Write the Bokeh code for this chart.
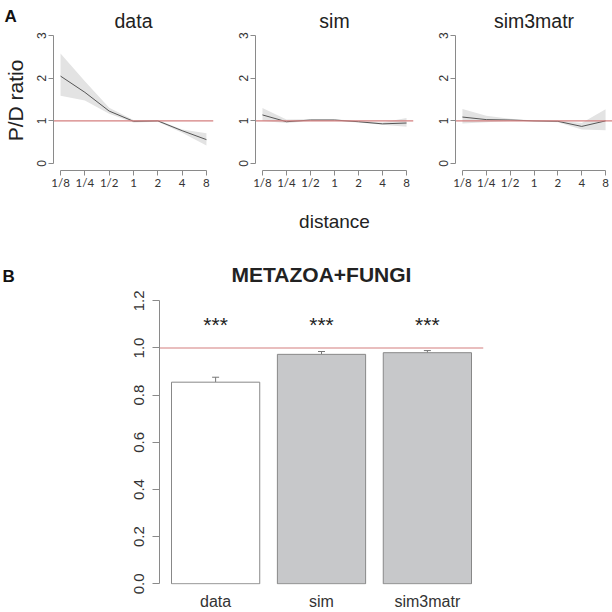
from bokeh.plotting import figure
from bokeh.models import (Span, Whisker, TeeHead, ColumnDataSource, FixedTicker,
                          FactorRange, Range1d)
from bokeh.layouts import column, row
from bokeh.embed import file_html
from bokeh.resources import INLINE
from bokeh.core.properties import value

# ---------------- data ----------------
distance_labels = ["1/8", "1/4", "1/2", "1", "2", "4", "8"]
log2_distance = [-3, -2, -1, 0, 1, 2, 3]

panel_names = ["data", "sim", "sim3matr"]

data_mean = [2.05, 1.67, 1.23, 0.99, 1.00, 0.77, 0.56]
data_lo = [1.59, 1.48, 1.17, 0.96, 0.98, 0.72, 0.42]
data_hi = [2.58, 1.93, 1.31, 1.02, 1.02, 0.80, 0.71]

sim_mean = [1.14, 0.98, 1.02, 1.02, 0.98, 0.93, 0.95]
sim_lo = [1.00, 0.95, 1.00, 1.00, 0.96, 0.91, 0.86]
sim_hi = [1.30, 1.03, 1.04, 1.04, 1.00, 0.96, 1.07]

sim3_mean = [1.09, 1.03, 1.02, 1.00, 0.99, 0.87, 1.00]
sim3_lo = [0.94, 0.97, 1.00, 0.99, 0.97, 0.80, 0.78]
sim3_hi = [1.28, 1.12, 1.05, 1.01, 1.01, 0.95, 1.27]

y_ticks_a = [0, 1, 2, 3]

bar_labels = ["data", "sim", "sim3matr"]
bar_values = [0.855, 0.973, 0.980]
bar_se = [0.021, 0.012, 0.009]
bar_fill = ["#ffffff", "#c7c8ca", "#c7c8ca"]
bar_stars = ["***", "***", "***"]
y_ticks_b = [0.0, 0.2, 0.4, 0.6, 0.8, 1.0, 1.2]
reference_ratio = 1.0

# ---------------- styling ----------------
FONT = "Liberation Sans"
AXIS_COL = "#8a8a8a"
TEXT_COL = "#333333"
RED = "#d47f7f"
TOP_H = 246
BOT_H = 366
SIDE_A = 26
SIDE_B = 24


def style_axes(p):
    p.xgrid.grid_line_color = None
    p.ygrid.grid_line_color = None
    p.outline_line_color = None
    for ax in (p.xaxis, p.yaxis):
        ax.axis_line_color = AXIS_COL
        ax.major_tick_line_color = AXIS_COL
        ax.minor_tick_line_color = None
        ax.major_tick_in = 0
        ax.major_label_text_color = TEXT_COL
        ax.axis_label_text_color = "#222222"
        ax.axis_label_text_font = FONT
        ax.axis_label_text_font_style = "normal"


def set_standoff(title, v):
    try:
        title.standoff = v
    except Exception:
        title.standoff = 0


def letter_title(s, letter, standoff, offset):
    s.title.text = letter
    s.title.text_font = FONT
    s.title.text_font_size = "17px"
    s.title.text_font_style = "bold"
    s.title.text_color = "#111111"
    s.title.align = "left"
    s.title.offset = offset
    set_standoff(s.title, standoff)


def panel(name, mean, lo, hi, width, left, right):
    p = figure(width=width, height=TOP_H,
               x_range=Range1d(-3.29, 3.29), y_range=Range1d(-0.164, 3.12),
               output_backend="svg", toolbar_location=None,
               min_border_left=left, min_border_right=right,
               min_border_top=30, min_border_bottom=76, title=name)
    p.title.text_font = FONT
    p.title.text_font_size = "19.5px"
    p.title.text_font_style = "normal"
    p.title.text_color = "#222222"
    p.title.align = "center"
    set_standoff(p.title, -3)
    p.title.offset = -6
    src = ColumnDataSource(dict(x=log2_distance, m=mean, lo=lo, hi=hi))
    p.varea(x="x", y1="lo", y2="hi", source=src, fill_color="#e3e3e3")
    p.add_layout(Span(location=reference_ratio, dimension="width", line_color=RED,
                      line_width=1.1, level="glyph"))
    p.line(x="x", y="m", source=src, line_color="#555555", line_width=1)
    style_axes(p)
    p.xaxis.ticker = FixedTicker(ticks=log2_distance)
    p.xaxis.major_label_overrides = {t: l for t, l in zip(log2_distance, distance_labels)}
    p.xaxis.bounds = (log2_distance[0], log2_distance[-1])
    p.xaxis.major_tick_out = 5
    p.xaxis.major_label_standoff = 0
    p.xaxis.major_label_text_font = "Lato"
    p.xaxis.major_label_text_font_size = "11.5px"
    p.yaxis.ticker = FixedTicker(ticks=y_ticks_a)
    p.yaxis.bounds = (y_ticks_a[0], y_ticks_a[-1])
    p.yaxis.major_tick_out = 5
    p.yaxis.major_label_standoff = 2
    p.yaxis.major_label_orientation = "vertical"
    p.yaxis.major_label_text_font = FONT
    p.yaxis.major_label_text_font_size = "12px"
    return p


# ---------------- panel A ----------------
# narrow strip: its left axis carries only the shared y-axis title, its title the letter
sa = figure(width=SIDE_A, height=TOP_H, x_range=Range1d(0, 1), y_range=Range1d(0, 1),
            output_backend="svg", toolbar_location=None, x_axis_type=None,
            min_border=0, min_border_top=30, min_border_bottom=76, title="A")
sa.xgrid.grid_line_color = None
sa.ygrid.grid_line_color = None
sa.outline_line_color = None
sa.yaxis.ticker = FixedTicker(ticks=[])
sa.yaxis.axis_line_color = None
sa.yaxis.major_tick_line_color = None
sa.yaxis.minor_tick_line_color = None
sa.yaxis.major_tick_out = 0
sa.yaxis.major_tick_in = 0
sa.yaxis.major_label_standoff = 0
sa.yaxis.axis_label = "P/D ratio"
sa.yaxis.axis_label_standoff = 0
sa.yaxis.axis_label_text_font = FONT
sa.yaxis.axis_label_text_font_style = "normal"
sa.yaxis.axis_label_text_font_size = "21px"
sa.yaxis.axis_label_text_color = "#222222"
letter_title(sa, "A", 9, -22)

p1 = panel(panel_names[0], data_mean, data_lo, data_hi, 233 - SIDE_A, 53 - SIDE_A, 20)
p2 = panel(panel_names[1], sim_mean, sim_lo, sim_hi, 200, 22, 20)
p3 = panel(panel_names[2], sim3_mean, sim3_lo, sim3_hi, 179, 22, 0)

p2.xaxis.axis_label = "distance"
p2.xaxis.axis_label_text_font_size = "19px"
p2.xaxis.axis_label_standoff = 19

# ---------------- panel B ----------------
sb = figure(width=SIDE_B, height=BOT_H, x_range=Range1d(0, 1), y_range=Range1d(0, 1),
            output_backend="svg", toolbar_location=None, x_axis_type=None,
            y_axis_type=None, min_border=0, title="B")
sb.xgrid.grid_line_color = None
sb.ygrid.grid_line_color = None
sb.outline_line_color = None
letter_title(sb, "B", 7, 2)

pb = figure(width=612 - SIDE_B, height=BOT_H,
            x_range=FactorRange(factors=bar_labels, factor_padding=0.2, range_padding=0.08),
            y_range=Range1d(-0.003, 1.248),
            output_backend="svg", toolbar_location=None,
            min_border_left=159 - SIDE_B, min_border_right=129,
            min_border_top=43, min_border_bottom=27, title="METAZOA+FUNGI")
pb.title.text_font = FONT
pb.title.text_font_size = "21px"
pb.title.text_font_style = "bold"
pb.title.text_color = "#222222"
pb.title.align = "center"
set_standoff(pb.title, 7)

bsrc = ColumnDataSource(dict(
    cat=bar_labels, val=bar_values,
    hi=[v + s for v, s in zip(bar_values, bar_se)],
    fill=bar_fill, stars=bar_stars,
    star_y=[1.10] * len(bar_labels)))

pb.add_layout(Span(location=reference_ratio, dimension="width", line_color=RED,
                   line_width=1.1, level="underlay"))
pb.vbar(x="cat", top="val", bottom=0, width=1.0, source=bsrc,
        fill_color="fill", line_color="#888888", line_width=1)
pb.add_layout(Whisker(base="cat", upper="hi", lower="val", source=bsrc, dimension="height",
                      line_color="#777777", line_width=1,
                      upper_head=TeeHead(size=7, line_color="#777777", line_width=1),
                      lower_head=None))
pb.text(x="cat", y="star_y", text="stars", source=bsrc, text_font=value(FONT),
        text_font_size="21px", text_align="center", text_baseline="alphabetic",
        text_color="#222222")

style_axes(pb)
pb.xaxis.axis_line_color = None
pb.xaxis.major_tick_line_color = None
pb.xaxis.major_tick_out = 0
pb.xaxis.major_label_standoff = 8
pb.xaxis.major_label_text_font = FONT
pb.xaxis.major_label_text_font_size = "16px"
pb.yaxis.ticker = FixedTicker(ticks=y_ticks_b)
pb.yaxis.major_label_overrides = {t: f"{t:.1f}" for t in y_ticks_b}
pb.yaxis.bounds = (y_ticks_b[0], y_ticks_b[-1])
pb.yaxis.major_tick_out = 7
pb.yaxis.major_label_standoff = 8
pb.yaxis.major_label_orientation = "vertical"
pb.yaxis.major_label_text_font = FONT
pb.yaxis.major_label_text_font_size = "15px"

layout = column(row(sa, p1, p2, p3), row(sb, pb))
open("out.html", "w").write(file_html(layout, INLINE))
